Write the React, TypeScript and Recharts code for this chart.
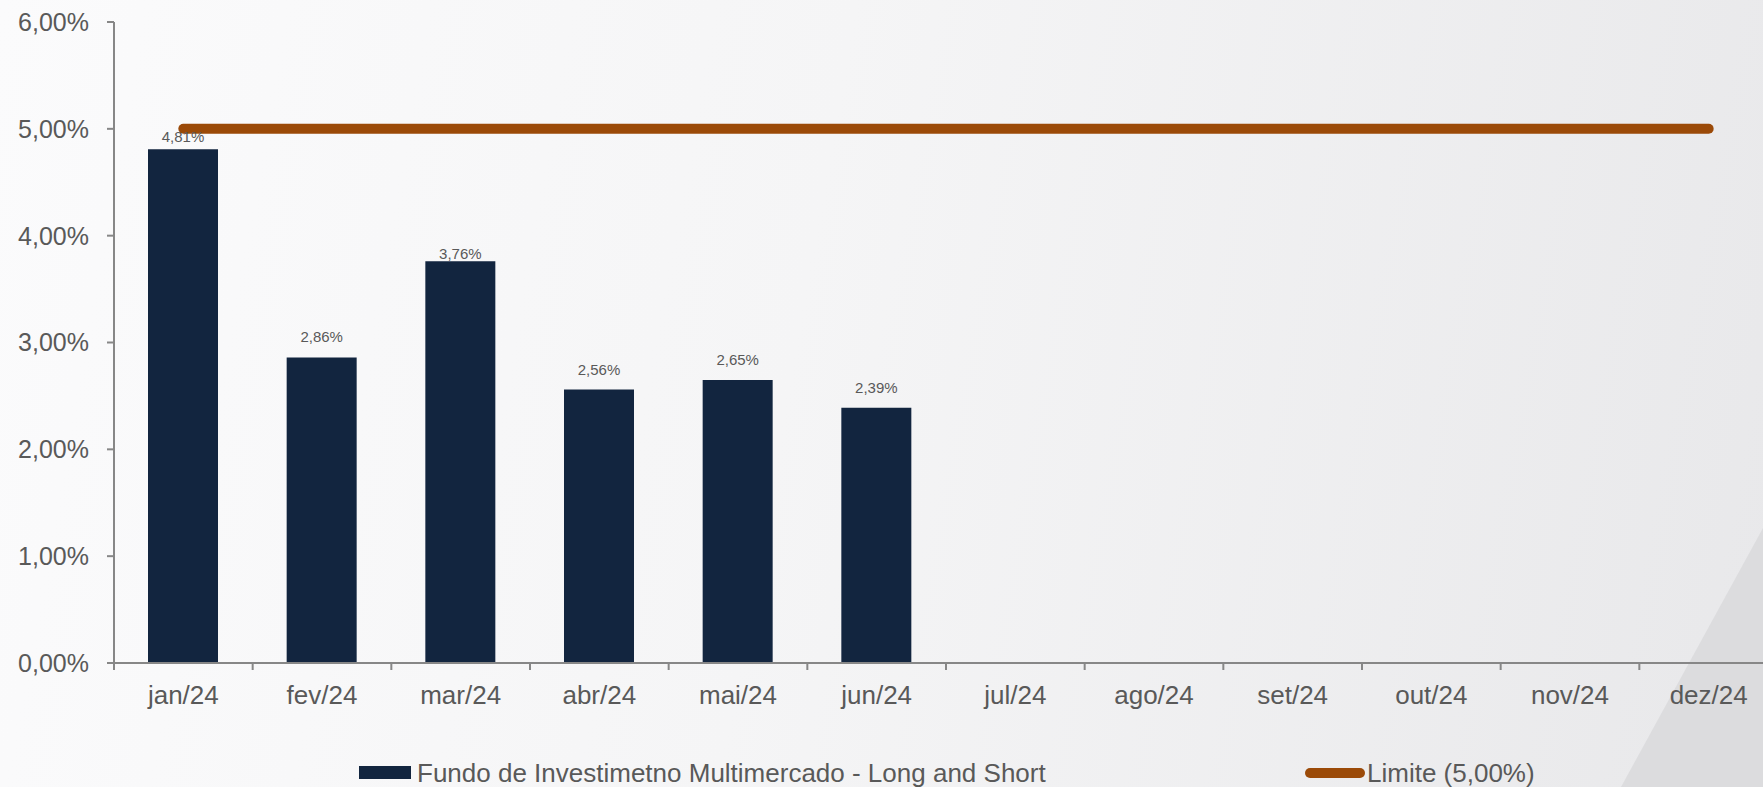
import React from 'react';
import {
  ComposedChart,
  Bar,
  Line,
  XAxis,
  YAxis,
  LabelList,
} from 'recharts';

const months = [
  'jan/24', 'fev/24', 'mar/24', 'abr/24', 'mai/24', 'jun/24',
  'jul/24', 'ago/24', 'set/24', 'out/24', 'nov/24', 'dez/24',
];
const fundValues: (number | null)[] = [4.81, 2.86, 3.76, 2.56, 2.65, 2.39, null, null, null, null, null, null];
const limitValues = [5, 5, 5, 5, 5, 5, 5, 5, 5, 5, 5, 5];
const yTicks = [0, 1, 2, 3, 4, 5, 6];

const fundName = 'Fundo de Investimetno Multimercado - Long and Short';
const limitName = 'Limite (5,00%)';

const data = months.map((m, i) => ({ name: m, fund: fundValues[i], limit: limitValues[i] }));

const BAR_COLOR = '#12253F';
const LINE_COLOR = '#9B4A08';
const AXIS_COLOR = '#878787';
const TEXT_COLOR = '#595959';
const FONT = '"Liberation Sans", Arial, sans-serif';

const CHART_W = 1800;
const PLOT_LEFT = 114;
const PLOT_RIGHT_MARGIN = 22;
const HALF_BAND = (CHART_W - PLOT_LEFT - PLOT_RIGHT_MARGIN) / months.length / 2;
// gap between bar top and label baseline (Excel nudged some labels)
const LABEL_GAP = [7, 15, 2, 15, 15, 15];

const pct = (v: number) => v.toFixed(2).replace('.', ',') + '%';

const MonthTick = ({ x, y, payload }: any) => (
  <g>
    <line x1={x - HALF_BAND} x2={x - HALF_BAND} y1={y - 8} y2={y - 1} stroke={AXIS_COLOR} strokeWidth={2} />
    <text x={x} y={y + 33} textAnchor="middle" fontSize={26} fill={TEXT_COLOR} fontFamily={FONT}>
      {payload.value}
    </text>
  </g>
);

const ValueLabel = ({ x, y, width, value, index }: any) => {
  if (value == null) return null;
  return (
    <text
      x={x + width / 2}
      y={y - (LABEL_GAP[index] ?? 15)}
      textAnchor="middle"
      fontSize={15}
      fill={TEXT_COLOR}
      fontFamily={FONT}
    >
      {pct(value)}
    </text>
  );
};

export default function App() {
  return (
    <div
      style={{
        position: 'absolute',
        left: 0,
        top: 0,
        width: 1763,
        height: 787,
        overflow: 'hidden',
        background: 'linear-gradient(100deg, #FBFBFC 0%, #F5F5F6 45%, #E8E8EA 100%)',
        fontFamily: FONT,
      }}
    >
      <div
        style={{
          position: 'absolute',
          left: 0,
          top: 0,
          width: 1763,
          height: 787,
          background: '#DCDCDE',
          clipPath: 'polygon(1763px 528px, 1763px 787px, 1621px 787px)',
        }}
      />
      <div style={{ position: 'absolute', left: 0, top: 0 }}>
        <ComposedChart
          width={CHART_W}
          height={787}
          data={data}
          margin={{ top: 22, right: PLOT_RIGHT_MARGIN, left: 0, bottom: 0 }}
        >
          <XAxis
            dataKey="name"
            height={124}
            axisLine={{ stroke: AXIS_COLOR, strokeWidth: 2 }}
            tickLine={false}
            tick={<MonthTick />}
            interval={0}
          />
          <YAxis
            width={PLOT_LEFT}
            domain={[0, 6]}
            ticks={yTicks}
            tickFormatter={pct}
            axisLine={{ stroke: AXIS_COLOR, strokeWidth: 2 }}
            tickLine={{ stroke: AXIS_COLOR, strokeWidth: 2 }}
            tickSize={7}
            tickMargin={18}
            tick={{ fontSize: 25, fill: TEXT_COLOR, fontFamily: FONT }}
          />
          <Bar dataKey="fund" name={fundName} fill={BAR_COLOR} barSize={70} isAnimationActive={false}>
            <LabelList dataKey="fund" content={<ValueLabel />} />
          </Bar>
          <Line
            dataKey="limit"
            name={limitName}
            stroke={LINE_COLOR}
            strokeWidth={10}
            strokeLinecap="round"
            dot={false}
            activeDot={false}
            isAnimationActive={false}
          />
        </ComposedChart>
      </div>
      <svg width={1763} height={787} style={{ position: 'absolute', left: 0, top: 0, pointerEvents: 'none' }}>
        <rect x={359} y={766} width={52} height={13} fill={BAR_COLOR} />
        <text x={417} y={782} fontSize={26} fill={TEXT_COLOR} fontFamily={FONT}>
          {fundName}
        </text>
        <line x1={1310} x2={1360} y1={773} y2={773} stroke={LINE_COLOR} strokeWidth={10} strokeLinecap="round" />
        <text x={1367} y={782} fontSize={26} fill={TEXT_COLOR} fontFamily={FONT}>
          {limitName}
        </text>
      </svg>
    </div>
  );
}
